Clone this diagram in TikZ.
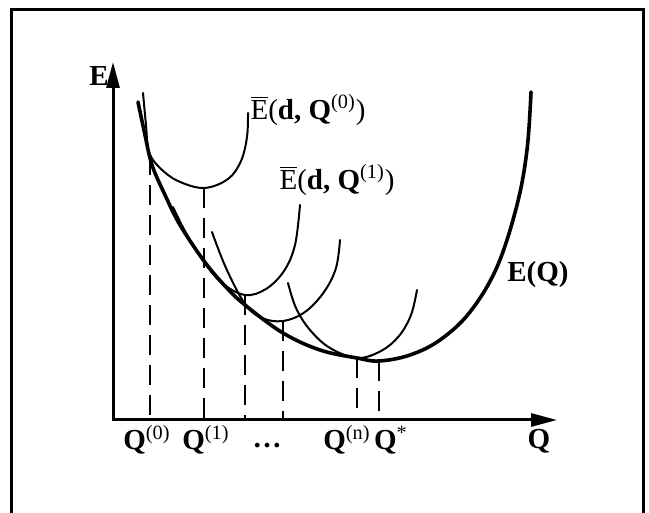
\documentclass[tikz,border=0pt]{standalone}
\usepackage{fontspec}
\setmainfont{Liberation Serif}
\usetikzlibrary{arrows.meta}
\tikzset{
  thin curve/.style={line width=1pt,line cap=round},
  true curve/.style={line width=1.8pt,line cap=round},
  guide/.style={line width=0.9pt,dash pattern=on 10pt off 5pt},
  axes/.style={line width=1.5pt,
    {Triangle[length=13pt,width=6.5pt]}-{Triangle[length=13pt,width=6.5pt]}},
  lbl/.style={font=\fontsize{14.5}{16}\selectfont,inner sep=0pt},
}
\newcommand{\Ebar}{$\overline{\hbox{E}}$}
\begin{document}
\begin{tikzpicture}[x=0.5pt,y=-0.5pt]
  \useasboundingbox (0,0) rectangle (649,513);
  % Frame (open at the bottom edge of the page)
  \draw[line width=1.5pt] (11,530) -- (11,10) -- (643,10) -- (643,530);
  % Axes
  \draw[axes] (113,62) -- (113,420) -- (557,420);
  \node[lbl,font=\fontsize{14.5}{16}\selectfont\bfseries] (elab) at (99,76) {E};
  \node[lbl,font=\fontsize{14.5}{16}\selectfont\bfseries] (qlab) at (539,441) {Q};
  % Guides from the curves down to the axis
  \foreach \x/\y in {150/155, 204/188, 245/295, 283/321, 357/358, 379/361}%
    \draw[guide] (\x,\y) -- (\x,419);
  % E(Q)
  \draw[true curve] plot[smooth,tension=0.6] coordinates {(138,102) (145,135) (152,165)
    (165,195) (180,225) (204,261) (225,286) (245,305) (283,333) (320,350) (357,358)
    (379,361) (410,355) (440,340) (470,312) (497,267) (517,205) (527,150) (531,92)};
  % Upper bounds
  \draw[thin curve] plot[smooth,tension=0.6] coordinates {(143,93) (146,125) (149,152)
    (160,168) (178,181) (204,188) (228,179) (241,161) (247,137) (248,113)};
  \draw[thin curve] plot[smooth,tension=0.6] coordinates {(173,207) (186,233) (204,262)
    (222,283) (245,295) (266,289) (284,271) (295,245) (300,205)};
  \draw[thin curve] plot[smooth,tension=0.6] coordinates {(212,232) (226,268) (245,304)
    (262,318) (283,321) (305,312) (324,292) (336,268) (340,240)};
  \draw[thin curve] plot[smooth,tension=0.6] coordinates {(288,283) (296,308) (310,330)
    (330,348) (357,358) (381,351) (399,336) (411,315) (417,290)};
  % Labels
  \node[lbl] (ub0) at (308,110) {\Ebar(\textbf{d, Q}\textsuperscript{(0)})};
  \node[lbl] (ub1) at (337,180) {\Ebar(\textbf{d, Q}\textsuperscript{(1)})};
  \node[lbl,font=\fontsize{14.5}{16}\selectfont\bfseries] (eq) at (538,275) {E(Q)};
  \node[lbl] (q0) at (147,440) {\textbf{Q}\textsuperscript{(0)}};
  \node[lbl] (q1) at (206,440) {\textbf{Q}\textsuperscript{(1)}};
  \node[lbl] (dots) at (267,446) {\textbf{\dots}};
  \node[lbl] (qn) at (347,440) {\textbf{Q}\textsuperscript{(n)}};
  \node[lbl] (qs) at (391,440) {\textbf{Q}\textsuperscript{*}};
\end{tikzpicture}
\end{document}
